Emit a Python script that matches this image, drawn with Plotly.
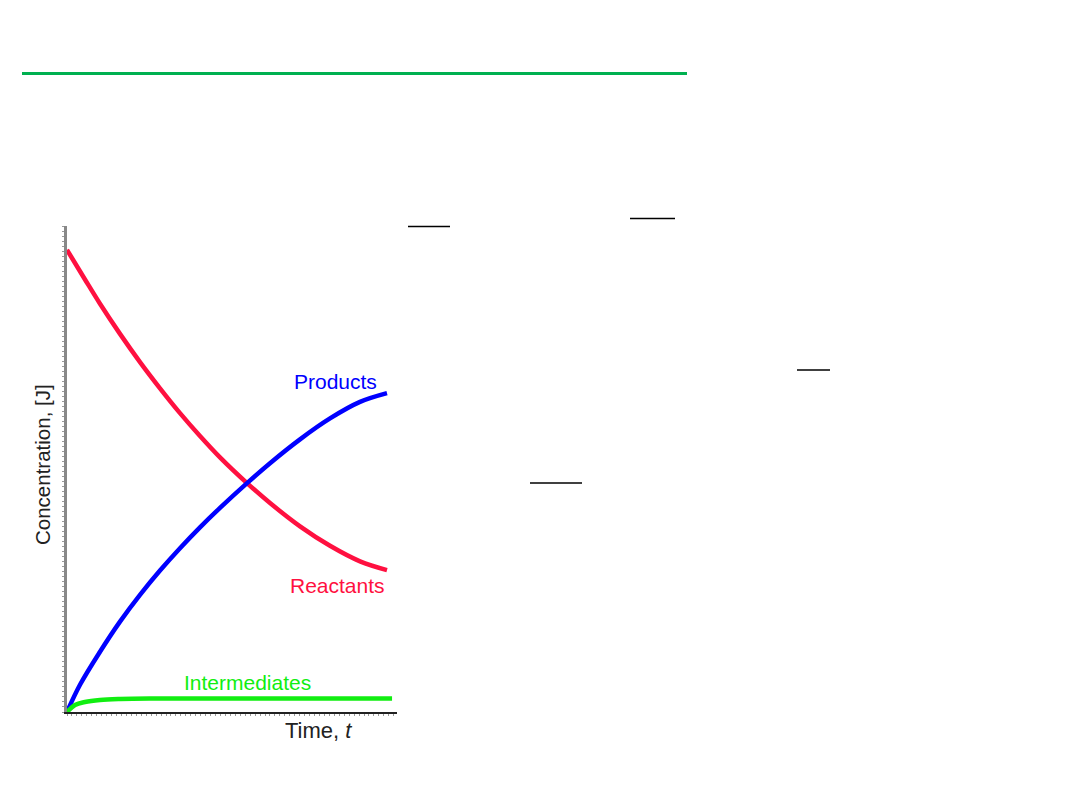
import plotly.graph_objects as go

# Data (time in arbitrary units 0..10, concentration 0..1)
reactant_t = [0, 0.545, 1.0, 1.606, 2.212, 2.818, 3.424, 4.03, 4.636, 5.455, 6.152, 7.061, 7.97, 8.879, 9.697]
reactant_c = [0.951, 0.890, 0.840, 0.778, 0.720, 0.666, 0.615, 0.568, 0.524, 0.471, 0.430, 0.382, 0.342, 0.310, 0.292]

product_t = [0, 0.394, 1.0, 1.606, 2.212, 2.818, 3.424, 4.03, 4.636, 5.455, 6.152, 7.061, 7.97, 8.879, 9.697]
product_c = [0, 0.056, 0.124, 0.186, 0.241, 0.291, 0.337, 0.380, 0.420, 0.471, 0.512, 0.561, 0.604, 0.638, 0.656]

inter_t = [0, 0.242, 0.545, 1.0, 1.606, 2.5, 4.0, 6.0, 8.0, 9.85]
inter_c = [0, 0.0144, 0.0206, 0.0247, 0.0267, 0.0278, 0.0278, 0.0278, 0.0278, 0.0278]

series_names = ["Reactants", "Products", "Intermediates"]
series_colors = ["#FF1040", "#0000FF", "#11EE11"]

# Page has an 8px body margin; the figure is sized to fit inside it.
OFF = 8
W, H = 1080 - 2 * OFF, 810 - 2 * OFF
L, R, T, B = 67, 397, 226, 712  # plot area in window pixels


def px_x(p):
    return (p - L) / (R - L)


def px_y(p):
    return (B - p) / (B - T)


fig = go.Figure()
for t, c, name, col in zip([reactant_t, product_t, inter_t],
                           [reactant_c, product_c, inter_c],
                           series_names, series_colors):
    fig.add_trace(go.Scatter(x=t, y=c, mode="lines", name=name,
                             line=dict(color=col, width=4.5, shape="spline", smoothing=1.0),
                             cliponaxis=False, showlegend=False))

fam = "Liberation Sans, Arial, sans-serif"
labels = [
    ("Products", 335, 381, "#0000FF", 21, 0),
    ("Reactants", 337, 585, "#FF1040", 21, 0),
    ("Intermediates", 247, 682, "#11EE11", 21, 0),
    ("Time, <i>t</i>", 318, 730, "#222222", 22, 0),
    ("Concentration, [J]", 42, 465, "#222222", 20.5, -90),
]
for text, x, y, col, size, ang in labels:
    fig.add_annotation(x=px_x(x), y=px_y(y), text=text, showarrow=False,
                       xref="paper", yref="paper", xanchor="center", yanchor="middle",
                       textangle=ang, font=dict(family=fam, size=size, color=col))

# Green rule at the top of the slide
fig.add_shape(type="line", xref="paper", yref="paper", x0=px_x(22), x1=px_x(687),
              y0=px_y(73.5), y1=px_y(73.5), line=dict(color="#00B050", width=3))
# Fraction bars left in the slide
for (a, b, yy) in [(408, 450, 226.5), (630, 675, 218.5), (797, 830, 370), (530, 582, 483)]:
    fig.add_shape(type="line", xref="paper", yref="paper", x0=px_x(a), x1=px_x(b),
                  y0=px_y(yy), y1=px_y(yy), line=dict(color="#000000", width=1.5))

fig.update_xaxes(range=[0, 10], showgrid=False, zeroline=False, showline=True,
                 linecolor="#222222", linewidth=2, ticks="outside", ticklen=2, tickwidth=1,
                 tickcolor="#999999", dtick=0.15, tick0=0, showticklabels=False,
                 layer="below traces")
fig.update_yaxes(range=[0, 1], showgrid=False, zeroline=False, showline=True,
                 linecolor="#888888", linewidth=2.5, ticks="outside", ticklen=2, tickwidth=1,
                 tickcolor="#999999", dtick=0.0103, tick0=0, showticklabels=False,
                 layer="below traces")

fig.update_layout(width=W, height=H, autosize=False,
                  margin=dict(l=L - OFF, r=W - (R - OFF), t=T - OFF, b=H - (B - OFF)),
                  paper_bgcolor="white", plot_bgcolor="white")

fig.write_html("out.html")
